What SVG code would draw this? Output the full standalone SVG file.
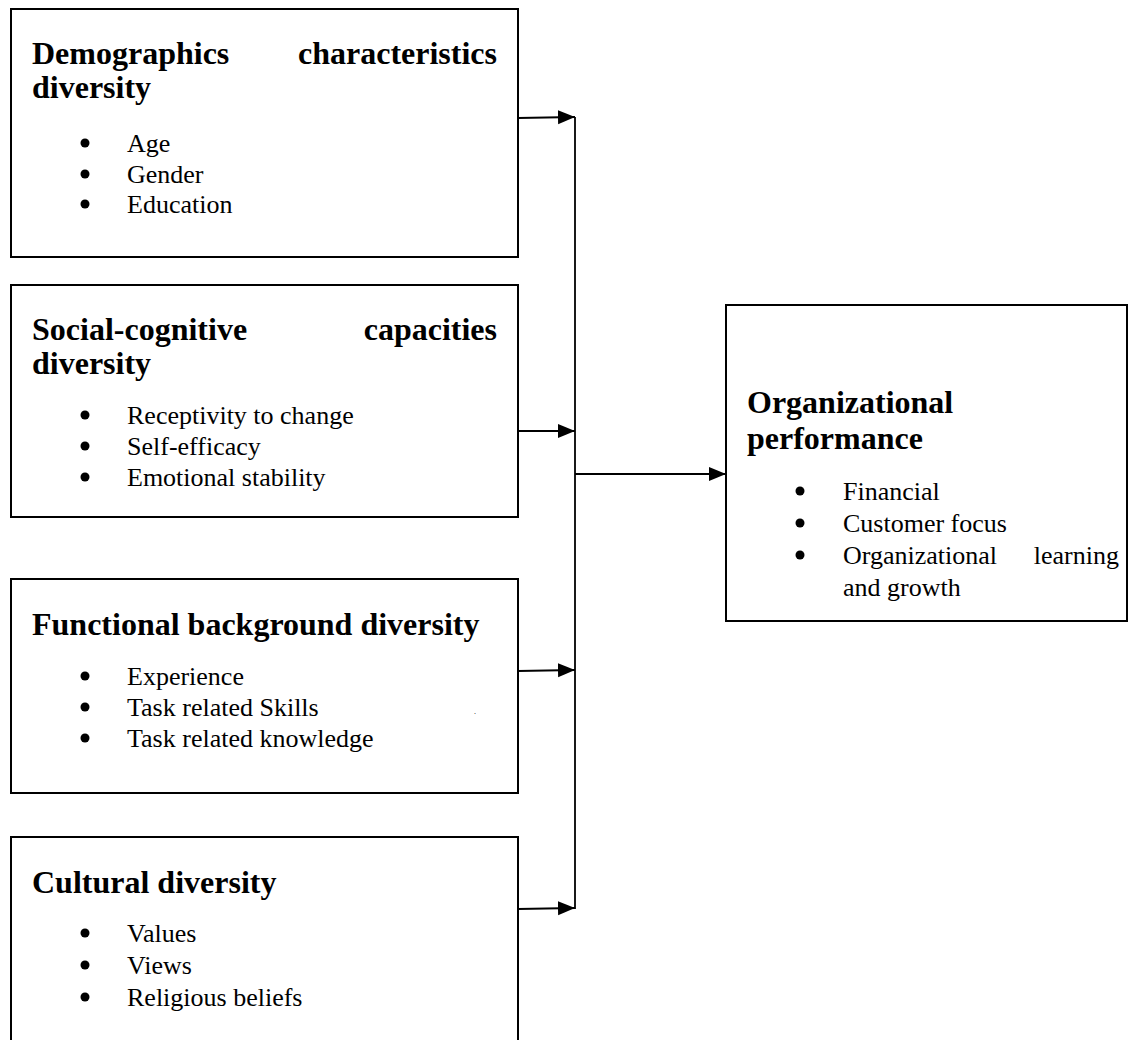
<svg xmlns="http://www.w3.org/2000/svg" width="1129" height="1040" viewBox="0 0 1129 1040">
<defs>
<style>
.box{fill:#fff;stroke:#000;stroke-width:2}
.h{font-family:"Liberation Serif","Times New Roman",serif;font-weight:bold;font-size:32px;fill:#000}
.t{font-family:"Liberation Serif","Times New Roman",serif;font-size:26px;fill:#000}
.b{fill:#000}
.c{fill:none;stroke:#000;stroke-width:1.8}
</style>
<marker id="ah" markerUnits="userSpaceOnUse" markerWidth="18" markerHeight="16" refX="17" refY="7" orient="auto">
<path d="M0,0 L17,7 L0,14 Z" fill="#000"/>
</marker>
</defs>
<rect width="1129" height="1040" fill="#fff"/>
<g id="connectors">
<line class="c" x1="518" y1="118" x2="575" y2="117" marker-end="url(#ah)"/>
<line class="c" x1="518" y1="431" x2="575" y2="431" marker-end="url(#ah)"/>
<line class="c" x1="518" y1="671" x2="575" y2="670" marker-end="url(#ah)"/>
<line class="c" x1="518" y1="909" x2="575" y2="908" marker-end="url(#ah)"/>
<line class="c" x1="575" y1="117" x2="575" y2="909"/>
<line class="c" x1="575" y1="474" x2="726" y2="474" marker-end="url(#ah)"/>
</g>
<g id="demographics">
<rect class="box" x="11" y="9" width="507" height="248"/>
<text class="h" x="32" y="64">Demographics</text>
<text class="h" x="497" y="64" text-anchor="end">characteristics</text>
<text class="h" x="32" y="98">diversity</text>
<circle class="b" cx="85" cy="143" r="4.5"/><text class="t" x="127" y="152">Age</text>
<circle class="b" cx="85" cy="174" r="4.5"/><text class="t" x="127" y="183">Gender</text>
<circle class="b" cx="85" cy="204" r="4.5"/><text class="t" x="127" y="213">Education</text>
</g>
<g id="social-cognitive">
<rect class="box" x="11" y="285" width="507" height="232"/>
<text class="h" x="32" y="340">Social-cognitive</text>
<text class="h" x="497" y="340" text-anchor="end">capacities</text>
<text class="h" x="32" y="374">diversity</text>
<circle class="b" cx="85" cy="415" r="4.5"/><text class="t" x="127" y="424">Receptivity to change</text>
<circle class="b" cx="85" cy="446" r="4.5"/><text class="t" x="127" y="455">Self-efficacy</text>
<circle class="b" cx="85" cy="477" r="4.5"/><text class="t" x="127" y="486">Emotional stability</text>
</g>
<g id="functional">
<rect class="box" x="11" y="579" width="507" height="214"/>
<text class="h" x="32" y="635">Functional background diversity</text>
<circle class="b" cx="85" cy="676" r="4.5"/><text class="t" x="127" y="685">Experience</text>
<circle class="b" cx="85" cy="707" r="4.5"/><text class="t" x="127" y="716">Task related Skills</text>
<text x="474" y="714" style="font-family:'Liberation Serif',serif;font-size:8px">.</text>
<circle class="b" cx="85" cy="738" r="4.5"/><text class="t" x="127" y="747">Task related knowledge</text>
</g>
<g id="cultural">
<rect class="box" x="11" y="837" width="507" height="210"/>
<text class="h" x="32" y="893">Cultural diversity</text>
<circle class="b" cx="85" cy="933" r="4.5"/><text class="t" x="127" y="942">Values</text>
<circle class="b" cx="85" cy="965" r="4.5"/><text class="t" x="127" y="974">Views</text>
<circle class="b" cx="85" cy="997" r="4.5"/><text class="t" x="127" y="1006">Religious beliefs</text>
</g>
<g id="performance">
<rect class="box" x="726" y="305" width="401" height="316"/>
<text class="h" x="747" y="413">Organizational</text>
<text class="h" x="747" y="449">performance</text>
<circle class="b" cx="800" cy="491" r="4.5"/><text class="t" x="843" y="500">Financial</text>
<circle class="b" cx="800" cy="523" r="4.5"/><text class="t" x="843" y="532">Customer focus</text>
<circle class="b" cx="800" cy="555" r="4.5"/><text class="t" x="843" y="564">Organizational</text>
<text class="t" x="1119" y="564" text-anchor="end">learning</text>
<text class="t" x="843" y="596">and growth</text>
</g>
</svg>
